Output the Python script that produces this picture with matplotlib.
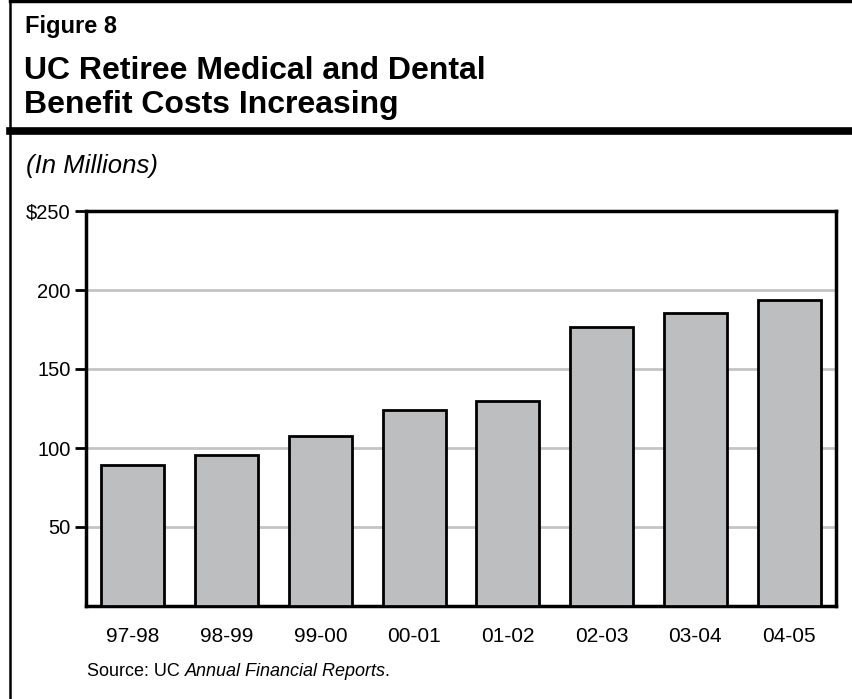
import matplotlib
matplotlib.use("Agg")
from matplotlib import pyplot as plt
from matplotlib.lines import Line2D

plt.rcParams["font.family"] = ["Liberation Sans", "DejaVu Sans"]

# data (millions of dollars)
years = ["97-98", "98-99", "99-00", "00-01", "01-02", "02-03", "03-04", "04-05"]
costs = [89.5, 95.5, 107.5, 124, 129.5, 176.5, 185.5, 193.5]
yticks = [50, 100, 150, 200, 250]
ytick_labels = ["50", "100", "150", "200", "$250"]

W, H = 853, 699
fig = plt.figure(figsize=(W / 100, H / 100), dpi=100)


def fx(px):
    return px / W


def fy(py):
    return 1 - py / H


# outer frame and title separator
fig.add_artist(Line2D([fx(10), fx(10)], [fy(1), fy(699)], color="black", lw=1.8))
fig.add_artist(Line2D([fx(10), fx(853)], [fy(1), fy(1)], color="black", lw=2.5))
fig.add_artist(Line2D([fx(10), fx(853)], [fy(130.5), fy(130.5)], color="black", lw=5.5))

fig.text(fx(25), fy(27), "Figure 8", fontsize=17, fontweight="bold", va="center")
fig.text(fx(24), fy(71), "UC Retiree Medical and Dental", fontsize=23, fontweight="bold", va="center")
fig.text(fx(24), fy(105), "Benefit Costs Increasing", fontsize=23, fontweight="bold", va="center")
fig.text(fx(26), fy(166), "(In Millions)", fontsize=18.5, style="italic", va="center")

ax = fig.add_axes([fx(86), fy(606), fx(836) - fx(86), (606 - 211) / H])
ax.bar(range(len(years)), costs, width=0.67, color="#bdbec0", edgecolor="black", linewidth=2, zorder=3)

ax.set_xlim(-0.5, len(years) - 0.5)
ax.set_ylim(0, 250)
ax.set_yticks(yticks)
ax.set_yticklabels(ytick_labels)
ax.set_xticks(range(len(years)))
ax.set_xticklabels(years)
ax.tick_params(axis="y", direction="out", length=8, width=2, labelsize=14.5, pad=3)
ax.tick_params(axis="x", length=0, labelsize=15, pad=15)
ax.yaxis.grid(True, color="#c4c4c4", linewidth=2, zorder=0)
for sp in ax.spines.values():
    sp.set_linewidth(2.5)

# source line: plain + italic + plain pieces chained together
src = fig.text(fx(87), fy(672), "Source: UC", fontsize=13, va="center")
pub = ax.annotate("Annual Financial Reports", xy=(1, 0), xycoords=src, xytext=(4, 0),
                  textcoords="offset points", fontsize=13, style="italic", va="bottom")
ax.annotate(".", xy=(1, 0), xycoords=pub, xytext=(-1.5, 0), textcoords="offset points",
            fontsize=13, va="bottom", annotation_clip=False)

fig.savefig("out.png", dpi=100)
